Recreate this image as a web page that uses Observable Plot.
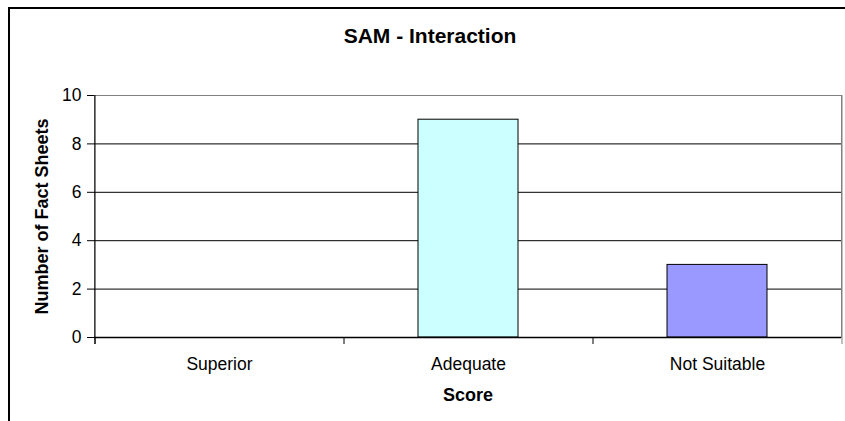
<!DOCTYPE html>
<html>
<head>
<meta charset="utf-8">
<script src="https://cdn.jsdelivr.net/npm/d3@7"></script>
<script src="https://cdn.jsdelivr.net/npm/@observablehq/plot@0.6"></script>
<style>
  html, body { margin: 0; padding: 0; background: #fff; overflow: hidden; }
  #page { position: relative; width: 845px; height: 421px; overflow: hidden; font-family: "Liberation Sans", Arial, sans-serif; }
  #outer { position: absolute; left: 8px; top: 7px; width: 900px; height: 500px; border-left: 2px solid #000; border-top: 2px solid #000; }
  #title { position: absolute; left: 0; top: 0; width: 845px; height: 70px; box-sizing: border-box; padding-top: 25px; padding-left: 15px;
           text-align: center; font-size: 21px; line-height: 21px; font-weight: bold; color: #000; }
  #chart { position: absolute; left: 0; top: 70px; }
  #chart svg { overflow: visible; }
  #chart svg text { font-family: "Liberation Sans", Arial, sans-serif; }
</style>
</head>
<body>
<div id="page">
  <div id="outer"></div>
  <div id="title">SAM - Interaction</div>
  <div id="chart"></div>
</div>
<script>
const categories = ["Superior", "Adequate", "Not Suitable"];
const counts = [0, 9, 3];
const barColors = ["#CCFFFF", "#CCFFFF", "#9999FF"];
const yTicks = [0, 2, 4, 6, 8, 10];
const gridValues = [2, 4, 6, 8];
const xTitle = "Score";
const yTitle = "Number of Fact Sheets";

const data = categories.map((c, i) => ({category: c, count: counts[i]}));

const W = 845, H = 351;
const mL = 94, mR = 4, mT = 25, mB = 84;
const step = (W - mL - mR) / categories.length;

const chart = Plot.plot({
  width: W,
  height: H,
  marginLeft: mL,
  marginRight: mR,
  marginTop: mT,
  marginBottom: mB,
  style: {fontSize: "17.5px", fontFamily: "Liberation Sans, Arial, sans-serif", color: "#000", background: "transparent", overflow: "visible"},
  x: {domain: categories, paddingInner: 0.6, paddingOuter: 0.3, tickSize: 0, tickPadding: 20, label: null},
  y: {domain: [0, 10], ticks: yTicks, tickSize: 7, tickPadding: 6, label: null},
  color: {domain: categories, range: barColors},
  marks: [
    Plot.frame({stroke: "#808080"}),
    Plot.ruleY(gridValues, {stroke: "#000", strokeWidth: 1}),
    Plot.barY(data.filter(d => d.count > 0), {x: "category", y: "count", fill: "category", stroke: "#000", strokeWidth: 1}),
    Plot.ruleY([0], {stroke: "#000", strokeWidth: 1.5}),
    Plot.ruleX(categories, {x: d => d, dx: -step / 2, y1: 0, y2: 0, insetBottom: -7, stroke: "#000"}),
    Plot.ruleX([categories[0]], {x: d => d, dx: -step / 2, y1: 10, y2: 0, insetBottom: -7, stroke: "#000"}),
    Plot.ruleX([categories[categories.length - 1]], {x: d => d, dx: step / 2, y1: 10, y2: 0, insetBottom: -7, stroke: "#808080"}),
    Plot.text([xTitle], {frameAnchor: "bottom", dy: 58, lineAnchor: "middle", textAnchor: "middle", fontWeight: "bold", fontSize: 18}),
    Plot.text([yTitle], {frameAnchor: "left", dx: -52, rotate: -90, lineAnchor: "middle", textAnchor: "middle", fontWeight: "bold", fontSize: 18})
  ]
});
document.getElementById("chart").appendChild(chart);
</script>
</body>
</html>
